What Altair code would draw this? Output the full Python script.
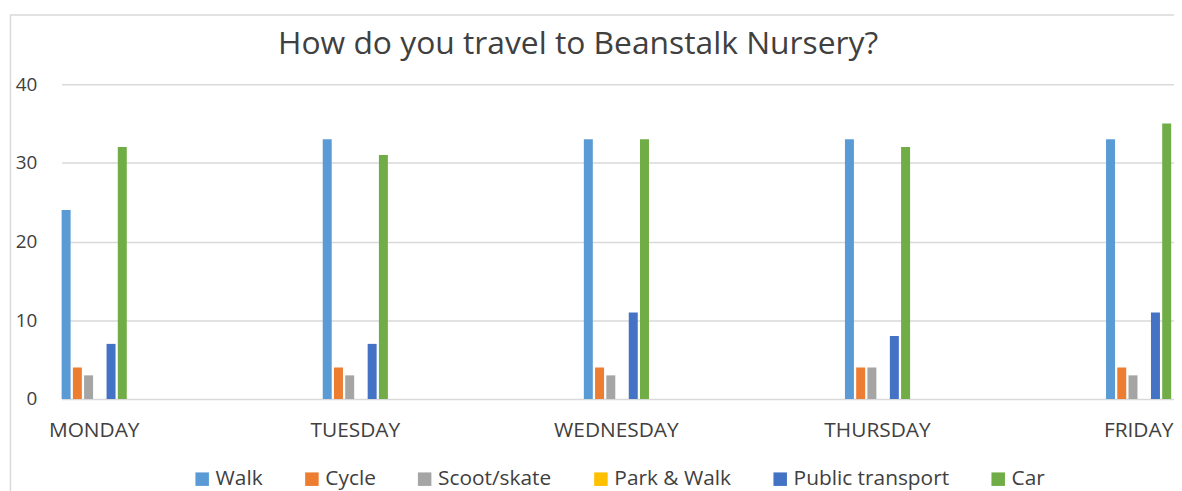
import altair as alt
import pandas as pd

days = ["MONDAY", "TUESDAY", "WEDNESDAY", "THURSDAY", "FRIDAY"]
modes = ["Walk", "Cycle", "Scoot/skate", "Park & Walk", "Public transport", "Car"]
walk = [24, 33, 33, 33, 33]
cycle = [4, 4, 4, 4, 4]
scoot = [3, 3, 3, 4, 3]
park = [0, 0, 0, 0, 0]
public = [7, 7, 11, 8, 11]
car = [32, 31, 33, 32, 35]
colors = ["#5B9BD5", "#ED7D31", "#A5A5A5", "#FFC000", "#4472C4", "#70AD47"]
y_ticks = [0, 10, 20, 30, 40]

series = [walk, cycle, scoot, park, public, car]
rows = []
for m, vals in zip(modes, series):
    for d, v in zip(days, vals):
        rows.append({"day": d, "mode": m, "value": v})
df = pd.DataFrame(rows)

FONT = "Open Sans"
TXT = "#404040"

bars = alt.Chart(df).mark_bar().encode(
    x=alt.X("day:N", sort=days,
            scale=alt.Scale(paddingInner=0.7505, paddingOuter=0.0054, align=0),
            axis=alt.Axis(title=None, labelAngle=0, labelFontSize=21, labelFont=FONT,
                          labelColor=TXT, labelPadding=21, ticks=False, domain=False,
                          grid=False)),
    xOffset=alt.XOffset("mode:N", sort=modes,
                        scale=alt.Scale(paddingInner=0.2, paddingOuter=0)),
    y=alt.Y("value:Q", scale=alt.Scale(domain=[0, 40], nice=False),
            axis=alt.Axis(title=None, values=y_ticks, labelFontSize=19, labelFont=FONT,
                          labelColor=TXT, labelPadding=25, ticks=False, domain=False,
                          grid=True, gridColor="#D9D9D9", gridWidth=1.5)),
    color=alt.Color("mode:N", sort=modes,
                    scale=alt.Scale(domain=modes, range=colors),
                    legend=alt.Legend(title=None, orient="none", direction="horizontal",
                                      legendX=131, legendY=387, symbolType="square",
                                      symbolSize=185, symbolStrokeWidth=0,
                                      labelFontSize=21, labelFont=FONT, labelColor=TXT,
                                      labelOffset=3, columnPadding=38.5, padding=0)),
)

border = alt.Chart(pd.DataFrame({"a": [0]})).mark_rect(
    filled=False, stroke="#D9D9D9", strokeWidth=1.5
).encode(x=alt.value(-51.5), x2=alt.value(1300), y=alt.value(-69.5), y2=alt.value(700))

chart = alt.layer(border, bars).properties(
    width=1120, height=317,
    title=alt.TitleParams("How do you travel to Beanstalk Nursery?", fontSize=32,
                          font=FONT, color=TXT, fontWeight="normal", anchor="middle",
                          frame="group", dx=-40, offset=-47),
    autosize=alt.AutoSizeParams(type="none"),
    padding={"left": 54, "top": 75, "right": 0, "bottom": 91},
).configure_view(stroke=None)

chart.save("out.html", embed_options={"renderer": "svg", "actions": False})
